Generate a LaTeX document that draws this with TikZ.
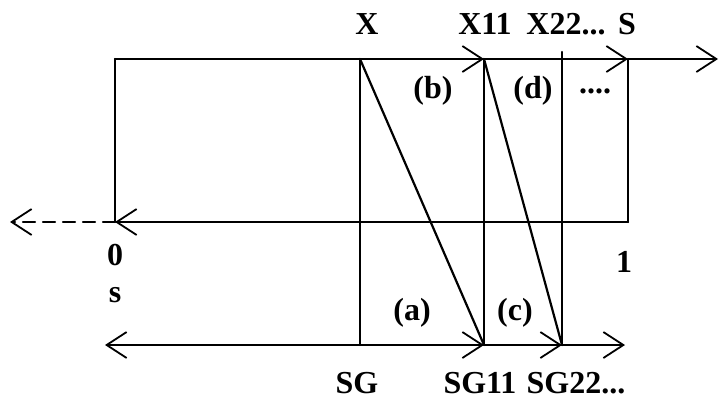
\documentclass[tikz,border=0pt]{standalone}
\usepackage{fontspec}
\setmainfont{Liberation Serif}
\usetikzlibrary{arrows.meta}
\begin{document}
\begin{tikzpicture}[x=1pt,y=-1pt,
  ln/.style={line width=2.2pt,line cap=round},
  arr/.style={ln,-{Straight Barb[length=20pt,width=26pt,line width=1.8pt]}},
  lbl/.style={font=\fontsize{32}{34}\selectfont\bfseries,inner sep=0pt}]
\useasboundingbox (0,0) rectangle (720,400);
% points
\coordinate (TL) at (115,59);
\coordinate (Xt) at (360,59);
\coordinate (X11t) at (484,59);
\coordinate (X22t) at (562,52);
\coordinate (St) at (628,59);
\coordinate (Tend) at (718,59);
\coordinate (ML) at (115,222);
\coordinate (MR) at (628,222);
\coordinate (Mend) at (10,222);
\coordinate (SGb) at (360,345);
\coordinate (SG11b) at (484,345);
\coordinate (SG22b) at (562,345);
\coordinate (Bend) at (625,345);
\coordinate (Bleft) at (105,345);
% top line
\draw[arr] (TL) -- (X11t);
\draw[arr] (X11t) -- (St);
\draw[arr] (St) -- (Tend);
% left and right verticals
\draw[ln] (TL) -- (ML);
\draw[ln] (St) -- (MR);
% middle line
\draw[arr] (MR) -- (ML);
\draw[arr,dashed,dash pattern=on 12pt off 8pt] (ML) -- (Mend);
% verticals
\draw[ln] (Xt) -- (SGb);
\draw[ln] (X11t) -- (SG11b);
\draw[ln] (X22t) -- (SG22b);
% diagonals
\draw[ln] (Xt) -- (SG11b);
\draw[ln] (X11t) -- (SG22b);
% bottom line
\draw[arr] (SGb) -- (Bleft);
\draw[arr] (SGb) -- (SG11b);
\draw[arr] (SG11b) -- (SG22b);
\draw[arr] (SG22b) -- (Bend);
% labels
\node[lbl] (lX) at (367,24) {X};
\node[lbl] (lX11) at (485,24) {X11};
\node[lbl] (lX22) at (566,24) {X22...};
\node[lbl] (lS) at (627,24) {S};
\node[lbl] (lb) at (433,91) {(b)};
\node[lbl] (ld) at (533,91) {(d)};
\node[lbl] (ldots) at (595,91) {....};
\node[lbl] (l0) at (115,255) {0};
\node[lbl] (ls) at (115,295) {s};
\node[lbl] (l1) at (624,262) {1};
\node[lbl] (la) at (412,313) {(a)};
\node[lbl] (lc) at (515,313) {(c)};
\node[lbl] (lSG) at (357,383) {SG};
\node[lbl] (lSG11) at (480,383) {SG11};
\node[lbl] (lSG22) at (576,383) {SG22...};
\end{tikzpicture}
\end{document}
